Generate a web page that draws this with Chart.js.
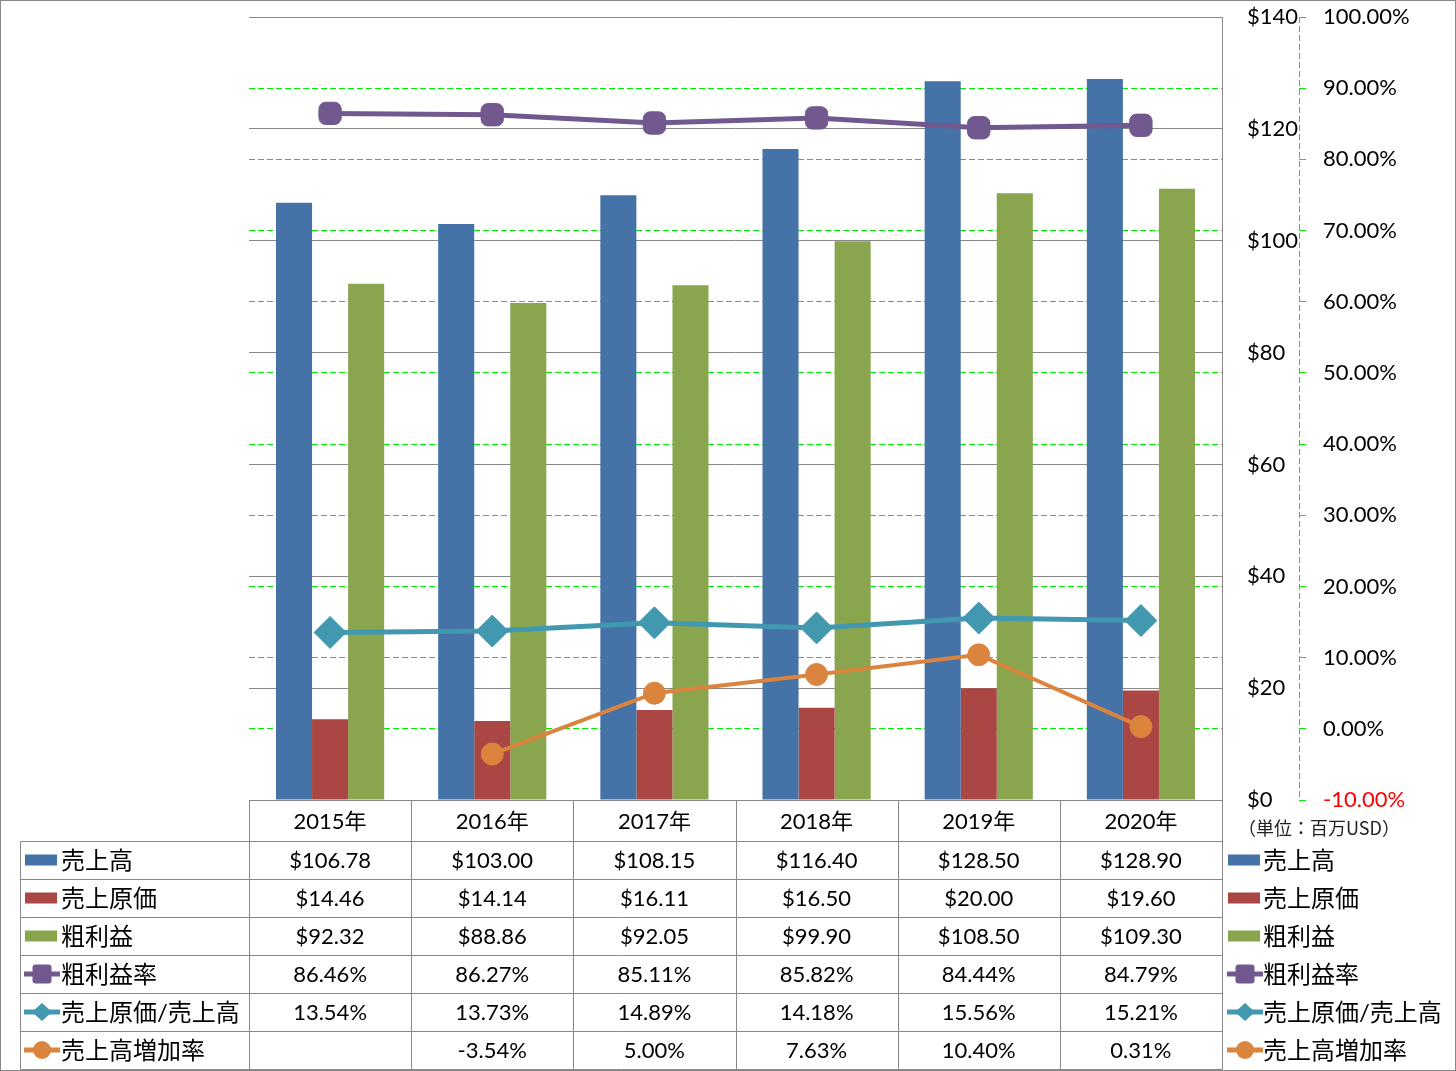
<!DOCTYPE html>
<html>
<head>
<meta charset="utf-8">
<script src="https://cdn.jsdelivr.net/npm/chart.js@4.4.1/dist/chart.umd.min.js"></script>
<style>
    html, body { margin: 0; padding: 0; background: #ffffff; }
    #wrap { width: 1456px; height: 1071px; }
</style>
</head>
<body>
<div id="wrap"><canvas id="salesChart" width="1456" height="1071"></canvas></div>
<script>
const years = ["2015年", "2016年", "2017年", "2018年", "2019年", "2020年"];
const sales = [106.78, 103.00, 108.15, 116.40, 128.50, 128.90];
const costOfSales = [14.46, 14.14, 16.11, 16.50, 20.00, 19.60];
const grossProfit = [92.32, 88.86, 92.05, 99.90, 108.50, 109.30];
const grossMargin = [86.46, 86.27, 85.11, 85.82, 84.44, 84.79];
const costRatio = [13.54, 13.73, 14.89, 14.18, 15.56, 15.21];
const salesGrowth = [null, -3.54, 5.00, 7.63, 10.40, 0.31];
const unitLabel = "（単位：百万USD）";

const BLUE = "#4572A7";
const RED = "#AA4643";
const GREEN = "#89A54E";
const PURPLE = "#71588F";
const TEAL = "#4198AF";
const ORANGE = "#DB843D";
const LIME = "#00ee00";
const GRID = "#888888";
const FONT = "Lato, 'Noto Sans CJK JP', sans-serif";

const money = v => "$" + v.toFixed(2);
const pct = v => v.toFixed(2) + "%";

const tableRows = [
    { label: "売上高", values: sales, fmt: money, kind: "bar", color: BLUE },
    { label: "売上原価", values: costOfSales, fmt: money, kind: "bar", color: RED },
    { label: "粗利益", values: grossProfit, fmt: money, kind: "bar", color: GREEN },
    { label: "粗利益率", values: grossMargin, fmt: pct, kind: "rectRounded", color: PURPLE },
    { label: "売上原価/売上高", values: costRatio, fmt: pct, kind: "rectRot", color: TEAL },
    { label: "売上高増加率", values: salesGrowth, fmt: pct, kind: "circle", color: ORANGE }
];

function drawMarker(ctx, kind, cx, cy, color) {
    ctx.fillStyle = color;
    ctx.beginPath();
    if (kind === "rectRounded") {
        const s = 9.5, r = 3;
        ctx.moveTo(cx - s + r, cy - s);
        ctx.arcTo(cx + s, cy - s, cx + s, cy + s, r);
        ctx.arcTo(cx + s, cy + s, cx - s, cy + s, r);
        ctx.arcTo(cx - s, cy + s, cx - s, cy - s, r);
        ctx.arcTo(cx - s, cy - s, cx + s, cy - s, r);
    } else if (kind === "rectRot") {
        ctx.moveTo(cx - 10, cy);
        ctx.lineTo(cx, cy - 9);
        ctx.lineTo(cx + 10, cy);
        ctx.lineTo(cx, cy + 9);
    } else {
        ctx.arc(cx, cy, 9, 0, Math.PI * 2);
    }
    ctx.closePath();
    ctx.fill();
}

function drawKey(ctx, row, x0, cy) {
    if (row.kind === "bar") {
        ctx.fillStyle = row.color;
        ctx.fillRect(x0, cy - 5.5, 32, 11);
        return;
    }
    ctx.strokeStyle = row.color;
    ctx.lineWidth = 5;
    ctx.beginPath();
    ctx.moveTo(x0 - 1, cy);
    ctx.lineTo(x0 + 35, cy);
    ctx.stroke();
    drawMarker(ctx, row.kind, x0 + 17, cy, row.color);
}

// data table + legends under the plot, like the Excel data table
const dataTable = {
    id: "dataTable",
    afterDraw(chart) {
        const ctx = chart.ctx;
        const area = chart.chartArea;
        const xs = chart.scales.x;
        const colW = (area.right - area.left) / years.length;
        const top = area.bottom;
        const headH = 41, rowH = 38;
        const leftX = 20;
        const px = v => Math.round(v) + 0.5;

        ctx.save();
        ctx.strokeStyle = GRID;
        ctx.lineWidth = 1;
        ctx.beginPath();
        // header row
        ctx.moveTo(px(area.left), px(top));
        ctx.lineTo(px(area.right), px(top));
        for (let i = 0; i <= years.length; i++) {
            const x = px(area.left + i * colW);
            ctx.moveTo(x, px(top));
            ctx.lineTo(x, px(top + headH + rowH * tableRows.length));
        }
        for (let r = 0; r <= tableRows.length; r++) {
            const y = px(top + headH + r * rowH);
            ctx.moveTo(leftX + 0.5, y);
            ctx.lineTo(px(area.right), y);
        }
        ctx.moveTo(leftX + 0.5, px(top + headH));
        ctx.lineTo(leftX + 0.5, px(top + headH + rowH * tableRows.length));
        ctx.stroke();

        ctx.fillStyle = "#000";
        ctx.textBaseline = "middle";
        ctx.textAlign = "center";
        ctx.font = "22px " + FONT;
        years.forEach((y, i) => {
            ctx.fillText(y, xs.getPixelForValue(i), top + headH / 2 + 1);
        });

        tableRows.forEach((row, r) => {
            const cy = top + headH + r * rowH + rowH / 2 + 1;
            ctx.fillStyle = "#000";
            ctx.textAlign = "center";
            ctx.font = "22px " + FONT;
            row.values.forEach((v, i) => {
                if (v === null) return;
                ctx.fillText(row.fmt(v), xs.getPixelForValue(i), cy);
            });
            ctx.textAlign = "left";
            ctx.font = "24px " + FONT;
            drawKey(ctx, row, 25, cy - 1);
            ctx.fillStyle = "#000";
            ctx.fillText(row.label, 61, cy);
            drawKey(ctx, row, 1228, cy - 1);
            ctx.fillStyle = "#000";
            ctx.fillText(row.label, 1263, cy);
        });

        ctx.font = "18px 'Noto Sans CJK JP', sans-serif";
        ctx.fillStyle = "#222";
        ctx.textAlign = "left";
        ctx.fillText(unitLabel, 1238, top + 28);

        // dashed axis line of the percent scale
        const y1 = chart.scales.y1;
        ctx.lineWidth = 1;
        ctx.strokeStyle = LIME;
        ctx.setLineDash([6, 3]);
        ctx.beginPath();
        ctx.moveTo(px(y1.left), y1.top);
        ctx.lineTo(px(y1.left), y1.bottom);
        ctx.stroke();
        ctx.setLineDash([]);

        // outer frame
        ctx.strokeStyle = GRID;
        ctx.strokeRect(0.5, 0.5, 1455, 1070);
        ctx.restore();
    }
};

function fixAxis(width) {
    return scale => {
        scale.width = width;
        scale.paddingTop = 0;
        scale.paddingBottom = 0;
    };
}

const ctx = document.getElementById("salesChart");

new Chart(ctx, {
    type: "bar",
    data: {
        labels: years,
        datasets: [
            { label: "売上高", data: sales, backgroundColor: BLUE, yAxisID: "y", order: 2 },
            { label: "売上原価", data: costOfSales, backgroundColor: RED, yAxisID: "y", order: 2 },
            { label: "粗利益", data: grossProfit, backgroundColor: GREEN, yAxisID: "y", order: 2 },
            {
                type: "line",
                label: "粗利益率",
                data: grossMargin,
                borderColor: PURPLE,
                backgroundColor: PURPLE,
                borderWidth: 5,
                pointStyle: "rectRounded",
                pointRadius: 13,
                pointBorderWidth: 1,
                yAxisID: "y1",
                order: 1
            },
            {
                type: "line",
                label: "売上原価/売上高",
                data: costRatio,
                borderColor: TEAL,
                backgroundColor: TEAL,
                borderWidth: 5,
                pointStyle: "rectRot",
                pointRadius: 16,
                pointBorderWidth: 1,
                yAxisID: "y1",
                order: 1
            },
            {
                type: "line",
                label: "売上高増加率",
                data: salesGrowth,
                borderColor: ORANGE,
                backgroundColor: ORANGE,
                borderWidth: 4,
                pointStyle: "circle",
                pointRadius: 11,
                pointBorderWidth: 1,
                yAxisID: "y1",
                order: 1
            }
        ]
    },
    options: {
        responsive: false,
        animation: false,
        events: [],
        devicePixelRatio: 1,
        categoryPercentage: 0.667,
        barPercentage: 1.0,
        layout: {
            padding: { left: 249, top: 15, right: 0, bottom: 271 }
        },
        plugins: {
            legend: { display: false },
            tooltip: { enabled: false }
        },
        scales: {
            x: {
                display: false,
                offset: true
            },
            y: {
                position: "right",
                min: 0,
                max: 140,
                afterFit: fixAxis(77),
                ticks: {
                    stepSize: 20,
                    padding: 25,
                    crossAlign: "near",
                    color: "#000",
                    font: { family: FONT, size: 22 },
                    callback: v => "$" + v
                },
                grid: {
                    color: GRID,
                    lineWidth: 1,
                    drawTicks: false
                },
                border: { display: true, color: GRID, width: 1 }
            },
            y1: {
                position: "right",
                min: -10,
                max: 100,
                afterFit: fixAxis(157),
                ticks: {
                    stepSize: 10,
                    padding: 17,
                    crossAlign: "near",
                    color: c => (c.tick && c.tick.value === -10 ? "#ff0000" : "#000"),
                    font: { family: FONT, size: 22 },
                    callback: v => v.toFixed(2) + "%"
                },
                grid: {
                    color: c => (c.tick && (c.tick.value === 100 || c.tick.value === -10) ? "rgba(0,0,0,0)" : LIME),
                    tickColor: LIME,
                    tickLength: 7,
                    lineWidth: 1
                },
                border: { display: false, dash: [6, 3] }
            }
        }
    },
    plugins: [dataTable]
});
</script>
</body>
</html>
